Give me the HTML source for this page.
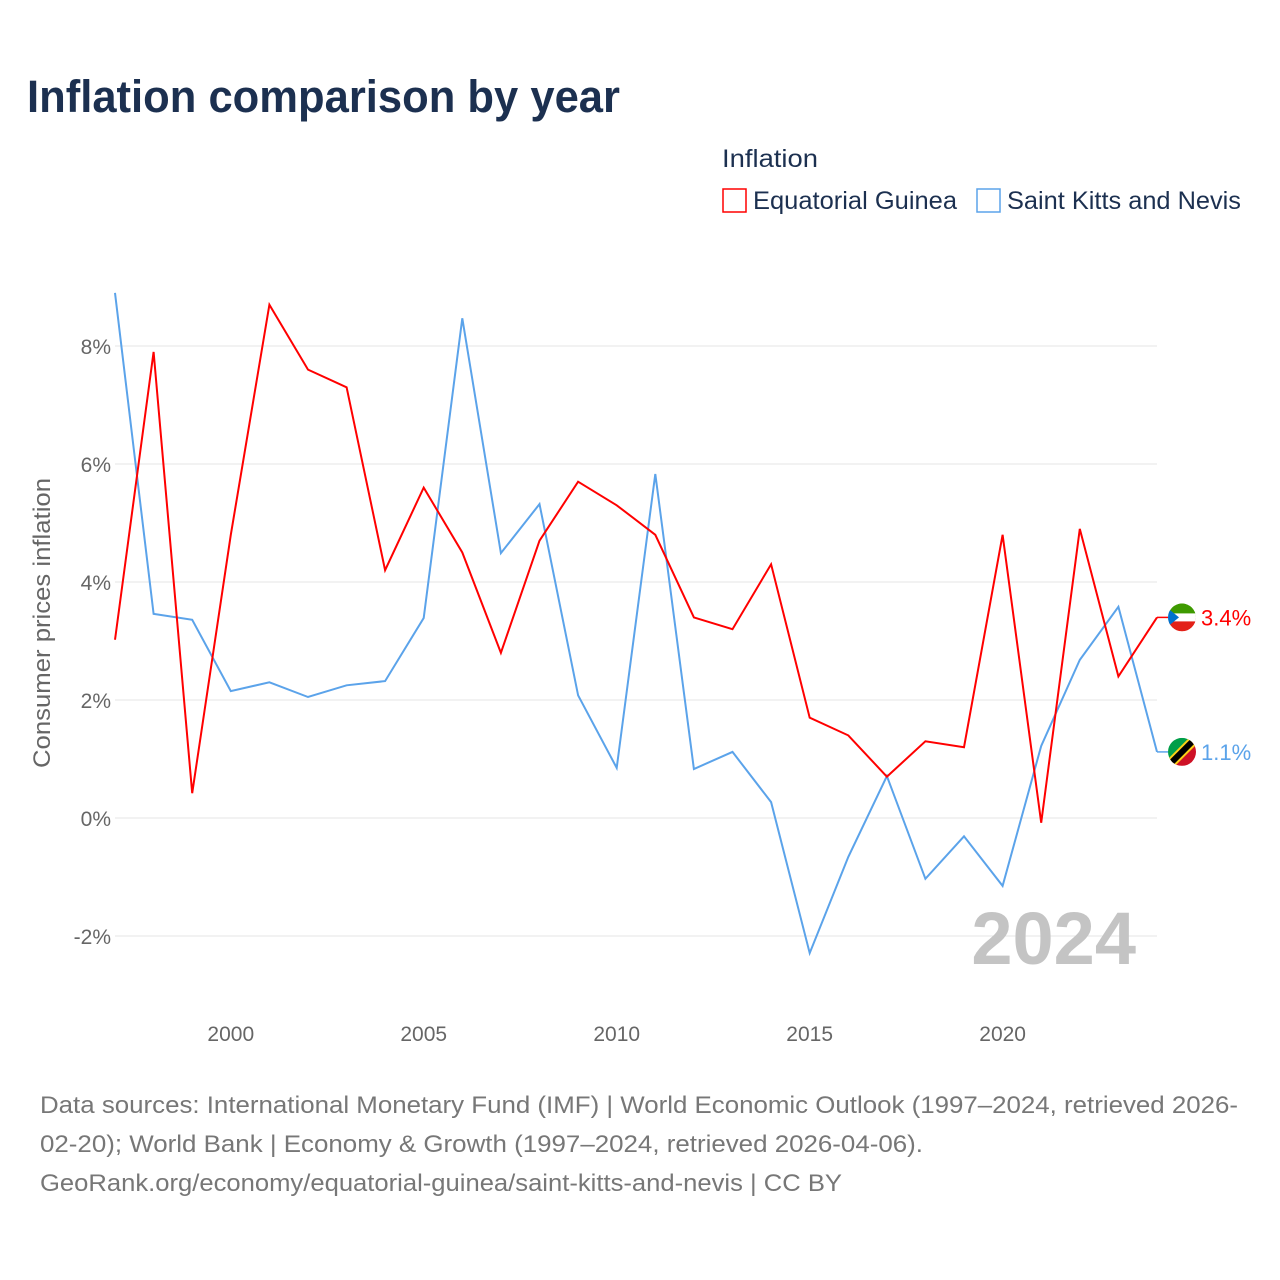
<!DOCTYPE html>
<html><head><meta charset="utf-8">
<style>
body{margin:0;background:#fff;font-family:"Liberation Sans",sans-serif;}
#wrap{position:relative;width:1280px;height:1280px;overflow:hidden;}
</style></head>
<body>
<div id="wrap">
<svg id="chart" width="1280" height="1280">
  <text x="27" y="112" font-size="45" font-weight="bold" fill="#1c3050" textLength="593" lengthAdjust="spacingAndGlyphs">Inflation comparison by year</text>
  <text x="722" y="167" font-size="25" fill="#1c3050" textLength="96" lengthAdjust="spacingAndGlyphs">Inflation</text>
  <g>
    <rect x="723" y="189" width="23" height="23" fill="none" stroke="#ff0000" stroke-width="1.5"/>
    <text x="753" y="209" font-size="25" fill="#1c3050" textLength="204" lengthAdjust="spacingAndGlyphs">Equatorial Guinea</text>
  </g>
  <g>
    <rect x="977" y="189" width="23" height="23" fill="none" stroke="#5ba3ea" stroke-width="1.5"/>
    <text x="1007" y="209" font-size="25" fill="#1c3050" textLength="234" lengthAdjust="spacingAndGlyphs">Saint Kitts and Nevis</text>
  </g>
  <g id="grid"></g>
  <g id="yticks"></g>
  <g id="xticks"></g>
  <text transform="translate(50,623) rotate(-90)" text-anchor="middle" font-size="24" fill="#666" textLength="290" lengthAdjust="spacingAndGlyphs">Consumer prices inflation</text>
  <text x="1136" y="964" text-anchor="end" font-size="74" font-weight="bold" fill="#c4c4c4">2024</text>
  <g id="series"></g>
  <g id="end-labels"></g>
  <text x="40" y="1113" font-size="24" fill="#777" textLength="1198" lengthAdjust="spacingAndGlyphs">Data sources: International Monetary Fund (IMF) | World Economic Outlook (1997–2024, retrieved 2026-</text>
  <text x="40" y="1152" font-size="24" fill="#777" textLength="883" lengthAdjust="spacingAndGlyphs">02-20); World Bank | Economy &amp; Growth (1997–2024, retrieved 2026-04-06).</text>
  <text x="40" y="1191" font-size="24" fill="#777" textLength="802" lengthAdjust="spacingAndGlyphs">GeoRank.org/economy/equatorial-guinea/saint-kitts-and-nevis | CC BY</text>
</svg>
</div>
<script>
const years = [1997,1998,1999,2000,2001,2002,2003,2004,2005,2006,2007,2008,2009,2010,2011,2012,2013,2014,2015,2016,2017,2018,2019,2020,2021,2022,2023,2024];
const equatorialGuinea = [3.02,7.9,0.42,4.8,8.7,7.6,7.3,4.2,5.6,4.5,2.8,4.7,5.7,5.3,4.8,3.4,3.2,4.3,1.7,1.4,0.7,1.3,1.2,4.8,-0.08,4.9,2.4,3.4];
const saintKitts = [8.9,3.46,3.36,2.15,2.3,2.05,2.25,2.32,3.39,8.47,4.49,5.32,2.08,0.85,5.83,0.83,1.12,0.27,-2.29,-0.66,0.71,-1.03,-0.31,-1.15,1.22,2.68,3.58,1.12];
const yTicks = [-2,0,2,4,6,8];
const yTickLabels = ["-2%","0%","2%","4%","6%","8%"];
const xTicks = [2000,2005,2010,2015,2020];

const NS = "http://www.w3.org/2000/svg";
const X = y => 115 + (y - 1997) * (1157 - 115) / 27;
const Y = v => 818 - v * 59;
function mk(tag, attrs, parent){const e=document.createElementNS(NS,tag);for(const k in attrs)e.setAttribute(k,attrs[k]);parent.appendChild(e);return e;}

const grid=document.getElementById('grid'), yt=document.getElementById('yticks'), xt=document.getElementById('xticks');
yTicks.forEach((t,i)=>{
  const l=mk('line',{x1:115,x2:1157,y1:Y(t),y2:Y(t),stroke:'#e6e6e6','stroke-width':1},grid);
  
  
  const tx=mk('text',{x:111,y:Y(t)+8,'text-anchor':'end','font-size':21,fill:'#666'},yt);
  tx.textContent=yTickLabels[i];
  
  
});
xTicks.forEach(t=>{
  const tx=mk('text',{x:X(t),y:1041,'text-anchor':'middle','font-size':21,fill:'#666'},xt);
  tx.textContent=t;
  
  
});

const sg=document.getElementById('series');
function line(vals,color,name){
  const d=vals.map((v,i)=>(i?'L':'M')+X(years[i]).toFixed(1)+','+Y(v).toFixed(1)).join(' ');
  const p=mk('path',{d:d,fill:'none',stroke:color,'stroke-width':2,'stroke-linejoin':'miter'},sg);
  
  
}
line(saintKitts,'#5ba3ea','line-saint-kitts-and-nevis');
line(equatorialGuinea,'#ff0000','line-equatorial-guinea');

const el=document.getElementById('end-labels');
function endLabel(v,color,name,flag){
  const y=Y(v), last=X(years[years.length-1]);
  mk('line',{x1:last,x2:1168,y1:y,y2:y,stroke:color,'stroke-width':1.5},el);
  const g=mk('g',{},el);
  
  
  const cx=1182;
  if(flag==='gq'){
    mk('path',{d:`M${cx-14},${y} A14,14 0 0 1 ${cx+14},${y} Z`,fill:'#3e9a00'},g);
    mk('path',{d:`M${cx-14},${y} A14,14 0 0 0 ${cx+14},${y} Z`,fill:'#e32118'},g);
    mk('rect',{x:cx-14,y:y-4,width:28,height:8,fill:'#fff'},g);
    mk('path',{d:`M${cx-14},${y-9} L${cx-3},${y} L${cx-14},${y+9} Z`,fill:'#0073ce'},g);
  } else {
    mk('path',{d:`M${cx-14},${y+14} L${cx+14},${y-14} L${cx-14},${y-14} Z`,fill:'#009e49'},g);
    mk('path',{d:`M${cx-14},${y+14} L${cx+14},${y-14} L${cx+14},${y+14} Z`,fill:'#ce1126'},g);
    mk('line',{x1:cx-14,y1:y+14,x2:cx+14,y2:y-14,stroke:'#fcd116','stroke-width':10},g);
    mk('line',{x1:cx-14,y1:y+14,x2:cx+14,y2:y-14,stroke:'#000','stroke-width':6},g);
  }
  mk('circle',{cx:cx,cy:y,r:14,fill:'none',stroke:'#fff','stroke-width':0},g);
  const t=mk('text',{x:1201,y:y+8,'font-size':22,fill:color},el);
  t.textContent=v.toFixed(1)+'%';
  
  
}
const defs=mk('defs',{},document.getElementById('chart'));
endLabel(equatorialGuinea[equatorialGuinea.length-1],'#ff0000','equatorial-guinea','gq');
endLabel(saintKitts[saintKitts.length-1],'#5ba3ea','saint-kitts-and-nevis','kn');
[...el.querySelectorAll('g')].forEach((g,i)=>{
  const cy=parseFloat(g.querySelector('circle').getAttribute('cy'));
  const cp=mk('clipPath',{id:'clip'+i},defs);
  mk('circle',{cx:1182,cy:cy,r:14},cp);
  g.setAttribute('clip-path','url(#clip'+i+')');
});
</script>
</body></html>
